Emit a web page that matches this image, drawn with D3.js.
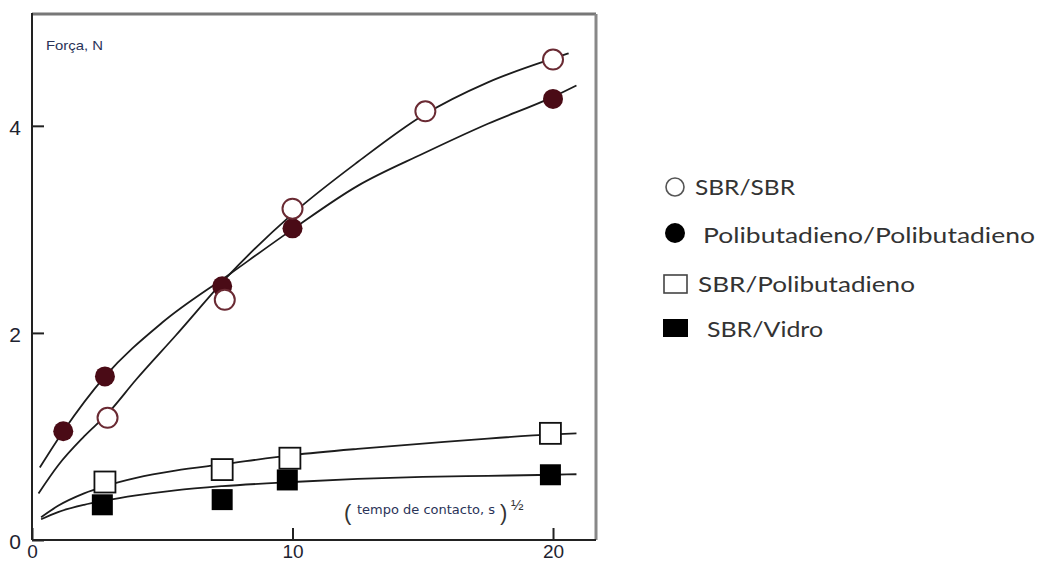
<!DOCTYPE html>
<html>
<head>
<meta charset="utf-8">
<script src="https://cdn.jsdelivr.net/npm/d3@7"></script>
<style>
  html, body { margin: 0; padding: 0; background: #fff; }
  svg { display: block; }
  .tick text { font-family: "Liberation Sans", Arial, sans-serif; font-size: 20px; fill: #1e2330; }
  .legend text { font-family: Lato, "Open Sans", sans-serif; font-size: 22px; fill: #333; }
</style>
</head>
<body>
<svg id="chart" width="1043" height="564"></svg>
<script>
// Measured points, x = (contact time, s)^1/2, y = force in N
const sbrSbrX = [2.9, 7.4, 10, 15.1, 20];
const sbrSbrY = [1.18, 2.32, 3.20, 4.14, 4.64];

const pbPbX = [1.2, 2.8, 7.3, 10, 20];
const pbPbY = [1.05, 1.58, 2.45, 3.01, 4.26];

const sbrPbX = [2.8, 7.3, 9.9, 19.9];
const sbrPbY = [0.56, 0.68, 0.79, 1.03];

const sbrGlassX = [2.7, 7.3, 9.8, 19.9];
const sbrGlassY = [0.34, 0.39, 0.58, 0.63];

// Fitted curves as drawn in the figure
const sbrSbrCurve = [[0.25, 0.45], [1, 0.72], [2, 1.0], [2.9, 1.22], [4, 1.55], [5.5, 1.97], [7.6, 2.57],
  [10, 3.15], [12.5, 3.65], [15, 4.1], [17.5, 4.42], [20, 4.65], [20.6, 4.7]];
const pbPbCurve = [[0.3, 0.7], [1.2, 1.05], [2.8, 1.58], [5, 2.1], [7.6, 2.57], [10, 3.0], [12.5, 3.42],
  [15, 3.73], [17.5, 4.02], [20, 4.28], [20.9, 4.39]];
const sbrPbCurve = [[0.35, 0.22], [1, 0.33], [2, 0.45], [2.8, 0.52], [4, 0.6], [5.5, 0.67], [7.3, 0.73],
  [10, 0.82], [12.5, 0.88], [15, 0.93], [17.5, 0.98], [20, 1.02], [20.9, 1.03]];
const sbrGlassCurve = [[0.35, 0.2], [1, 0.27], [2, 0.34], [2.8, 0.38], [4, 0.43], [5.5, 0.48], [7.3, 0.52],
  [10, 0.56], [12.5, 0.59], [15, 0.61], [17.5, 0.62], [20, 0.63], [20.9, 0.635]];

const xTicks = [0, 10, 20];
const yTicks = [0, 2, 4];
const legendLabels = ['SBR/SBR', 'Polibutadieno/Polibutadieno', 'SBR/Polibutadieno', 'SBR/Vidro'];

// Layout
const plot = { left: 32, top: 14, right: 596, bottom: 540 };
const maroon = '#4a0b16';

const svg = d3.select('#chart');

const x = d3.scaleLinear().domain([0, 21.65]).range([plot.left, plot.right]);
const y = d3.scaleLinear().domain([0, 5.08]).range([plot.bottom, plot.top]);

// Axes (ticks point inward)
const xAxis = svg.append('g')
  .attr('transform', `translate(0,${plot.bottom})`)
  .call(d3.axisBottom(x).tickValues(xTicks).tickSize(-12).tickPadding(5).tickFormat(d3.format('d')));
const yAxis = svg.append('g')
  .attr('transform', `translate(${plot.left},0)`)
  .call(d3.axisLeft(y).tickValues(yTicks).tickSize(-12).tickPadding(11).tickFormat(d3.format('d')));

[xAxis, yAxis].forEach(a => {
  a.select('.domain').remove();
  a.selectAll('.tick line').attr('stroke', '#222').attr('stroke-width', 2);
});
xAxis.selectAll('.tick text').style('font-size', '19px');
yAxis.selectAll('.tick text').attr('dy', '0.4em').style('font-size', '21px');

// Frame: top/right grey, left/bottom dark
svg.append('line').attr('x1', plot.left).attr('x2', plot.right).attr('y1', plot.top).attr('y2', plot.top)
  .attr('stroke', '#777').attr('stroke-width', 3);
svg.append('line').attr('x1', plot.right).attr('x2', plot.right).attr('y1', plot.top).attr('y2', plot.bottom)
  .attr('stroke', '#888').attr('stroke-width', 3);
svg.append('line').attr('x1', plot.left).attr('x2', plot.left).attr('y1', plot.top - 1).attr('y2', plot.bottom)
  .attr('stroke', '#222').attr('stroke-width', 2);
svg.append('line').attr('x1', plot.left).attr('x2', plot.right).attr('y1', plot.bottom).attr('y2', plot.bottom)
  .attr('stroke', '#222').attr('stroke-width', 2);

// Axis titles
svg.append('text')
  .attr('x', 46).attr('y', 50)
  .attr('font-family', '"Liberation Sans", Arial, sans-serif')
  .attr('font-size', 13)
  .attr('textLength', 57).attr('lengthAdjust', 'spacingAndGlyphs')
  .attr('fill', '#2a3358')
  .text('Força, N');

const xt = svg.append('g').attr('fill', '#2a3358');
xt.append('text').attr('x', 344).attr('y', 520)
  .attr('font-family', '"Liberation Sans", Arial, sans-serif').attr('font-size', 22).attr('fill', '#333')
  .text('(');
xt.append('text').attr('x', 357).attr('y', 514)
  .attr('font-family', '"DejaVu Sans Condensed", "Liberation Sans Narrow", sans-serif').attr('font-size', 13)
  .attr('textLength', 138).attr('lengthAdjust', 'spacingAndGlyphs')
  .text('tempo de contacto, s');
xt.append('text').attr('x', 500).attr('y', 520)
  .attr('font-family', '"Liberation Sans", Arial, sans-serif').attr('font-size', 22).attr('fill', '#333')
  .text(')');
xt.append('text').attr('x', 511).attr('y', 510)
  .attr('font-family', '"Liberation Sans", Arial, sans-serif').attr('font-size', 15).attr('fill', '#333')
  .text('½');

// Curves
const line = d3.line().x(d => x(d[0])).y(d => y(d[1])).curve(d3.curveMonotoneX);
const curves = svg.append('g').attr('fill', 'none').attr('stroke', '#1c1c1c').attr('stroke-width', 1.8);
[sbrSbrCurve, pbPbCurve, sbrPbCurve, sbrGlassCurve].forEach(c => {
  curves.append('path').attr('d', line(c));
});

// Markers
const zip = (xs, ys) => xs.map((v, i) => [v, ys[i]]);
const sq = 21;

svg.append('g').selectAll('rect')
  .data(zip(sbrGlassX, sbrGlassY))
  .join('rect')
  .attr('x', d => x(d[0]) - sq / 2).attr('y', d => y(d[1]) - sq / 2)
  .attr('width', sq).attr('height', sq)
  .attr('fill', '#000');

svg.append('g').selectAll('rect')
  .data(zip(sbrPbX, sbrPbY))
  .join('rect')
  .attr('x', d => x(d[0]) - sq / 2).attr('y', d => y(d[1]) - sq / 2)
  .attr('width', sq).attr('height', sq)
  .attr('fill', '#fff').attr('stroke', '#111').attr('stroke-width', 1.8);

svg.append('g').selectAll('circle')
  .data(zip(pbPbX, pbPbY))
  .join('circle')
  .attr('cx', d => x(d[0])).attr('cy', d => y(d[1])).attr('r', 10)
  .attr('fill', maroon);

svg.append('g').selectAll('circle')
  .data(zip(sbrSbrX, sbrSbrY))
  .join('circle')
  .attr('cx', d => x(d[0])).attr('cy', d => y(d[1])).attr('r', 10)
  .attr('fill', '#fff').attr('stroke', '#6a2a33').attr('stroke-width', 2);

// Legend
const legend = svg.append('g').attr('class', 'legend');
const legendRows = [
  { cy: 187, tx: 695, ty: 195, w: 100 },
  { cy: 233, tx: 703, ty: 243, w: 332 },
  { cy: 284, tx: 698, ty: 292, w: 217 },
  { cy: 328, tx: 707, ty: 337, w: 116 },
];
legend.append('circle').attr('cx', 675).attr('cy', legendRows[0].cy).attr('r', 9)
  .attr('fill', '#fff').attr('stroke', '#555').attr('stroke-width', 1.6);
legend.append('circle').attr('cx', 675).attr('cy', legendRows[1].cy).attr('r', 10)
  .attr('fill', '#000');
legend.append('rect').attr('x', 664).attr('y', legendRows[2].cy - 9).attr('width', 23).attr('height', 18)
  .attr('fill', '#fff').attr('stroke', '#444').attr('stroke-width', 1.6);
legend.append('rect').attr('x', 663).attr('y', legendRows[3].cy - 9).attr('width', 25).attr('height', 18)
  .attr('fill', '#000');
legend.selectAll('text')
  .data(legendLabels)
  .join('text')
  .attr('x', (d, i) => legendRows[i].tx)
  .attr('y', (d, i) => legendRows[i].ty)
  .attr('textLength', (d, i) => legendRows[i].w)
  .attr('lengthAdjust', 'spacingAndGlyphs')
  .text(d => d);
</script>
</body>
</html>
